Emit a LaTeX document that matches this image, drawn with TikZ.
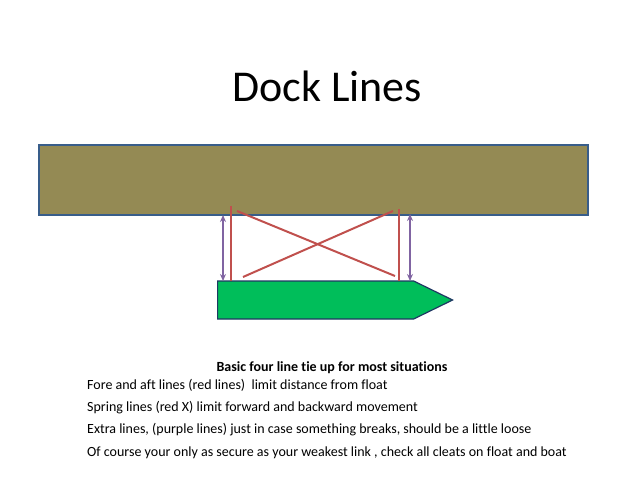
\documentclass[tikz,border=0pt]{standalone}
\usepackage{fontspec}
\setmainfont{Carlito}[Ligatures=NoCommon]
\usetikzlibrary{arrows.meta,positioning,shapes.symbols}
\definecolor{dockfill}{RGB}{148,138,84}
\definecolor{dockbdr}{RGB}{56,93,138}
\definecolor{boatfill}{RGB}{0,190,90}
\definecolor{boatbdr}{RGB}{31,56,99}
\definecolor{redline}{RGB}{192,80,77}
\definecolor{purpline}{RGB}{128,100,162}
\tikzset{
  %% dock / float
  dockblk/.style={rectangle,draw=dockbdr,fill=dockfill,line width=1.2pt,
    minimum width=549pt,minimum height=70pt,inner sep=0pt},
  %% boat hull
  boatblk/.style={signal,signal to=east,signal pointer angle=52,
    draw=boatbdr,fill=boatfill,line width=1.2pt,
    minimum width=235pt,minimum height=38pt,inner sep=0pt},
  %% lines
  rline/.style={draw=redline,line width=2pt},
  parr/.style={{Stealth[length=7pt,width=6pt]}-{Stealth[length=7pt,width=6pt]},draw=purpline,line width=1.8pt},
  ttl/.style={font=\fontsize{44}{48}\selectfont},
  note/.style={font=\fontsize{14}{16}\selectfont,anchor=west,inner sep=0pt,
    text height=10pt,text depth=3.5pt},
}
\begin{document}
\begin{tikzpicture}[x=1pt,y=-1pt]
  \useasboundingbox (0,0) rectangle (639,494);

  \node[ttl] (title) at (327,86) {Dock Lines};

  \node[dockblk] (dock) at (313.5,180) {};
  \node[boatblk,anchor=west] (boat) at (217,300) {};

  %% cleat points
  \coordinate (dl) at (231,206);
  \coordinate (dr) at (399,209);
  \coordinate (bl) at (231,281);
  \coordinate (br) at (399,281);
  \coordinate (xa) at (237,211);
  \coordinate (xb) at (395,276);
  \coordinate (xc) at (393,211);
  \coordinate (xd) at (243,277);
  \coordinate (pl1) at (223,215);
  \coordinate (pl2) at (223,281);
  \coordinate (pr1) at (410,214);
  \coordinate (pr2) at (410,281);

  \draw[rline] (dl) -- (bl);
  \draw[rline] (dr) -- (br);
  \draw[rline] (xa) -- (xb);
  \draw[rline] (xc) -- (xd);
  \draw[parr] (pl1) -- (pl2);
  \draw[parr] (pr1) -- (pr2);

  \node[font=\fontsize{14}{16}\selectfont\bfseries] (head) at (332,368) {Basic four line tie up for most situations};
  \node[note] (n1) at (87,386.5) {Fore and aft lines (red lines)\ \ limit distance from float};
  \node[note,below=8.2pt of n1.south west,anchor=north west] (n2) {Spring lines (red X) limit forward and backward movement};
  \node[note,below=8.2pt of n2.south west,anchor=north west] (n3) {Extra lines, (purple lines) just in case something breaks, should be a little loose};
  \node[note,below=8.2pt of n3.south west,anchor=north west] (n4) {Of course your only as secure as your weakest link , check all cleats on float and boat};
\end{tikzpicture}
\end{document}
